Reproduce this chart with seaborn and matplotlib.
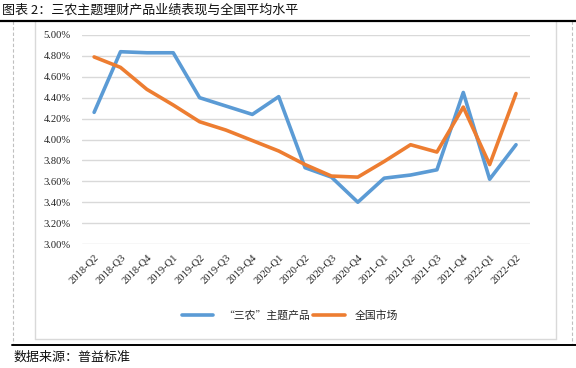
import matplotlib
matplotlib.use("Agg")
import matplotlib.pyplot as plt
import seaborn as sns
import pandas as pd
from matplotlib.lines import Line2D
from matplotlib.ticker import FuncFormatter

quarters = ["2018-Q2", "2018-Q3", "2018-Q4", "2019-Q1", "2019-Q2", "2019-Q3",
            "2019-Q4", "2020-Q1", "2020-Q2", "2020-Q3", "2020-Q4", "2021-Q1",
            "2021-Q2", "2021-Q3", "2021-Q4", "2022-Q1", "2022-Q2"]
sannong = [4.26, 4.84, 4.83, 4.83, 4.40, 4.32, 4.24, 4.41, 3.73, 3.64, 3.40,
           3.63, 3.66, 3.71, 4.45, 3.62, 3.95]
national = [4.79, 4.69, 4.48, 4.33, 4.17, 4.09, 3.99, 3.89, 3.76, 3.65, 3.64,
            3.79, 3.95, 3.88, 4.31, 3.76, 4.44]
series_names = ["“三农”主题产品", "全国市场"]
colors = ["#5B9BD5", "#ED7D31"]
yticks = [3.0, 3.2, 3.4, 3.6, 3.8, 4.0, 4.2, 4.4, 4.6, 4.8, 5.0]

sns.set_theme(style="white")
plt.rcParams['font.family'] = ['Noto Sans CJK SC', 'DejaVu Sans']

df = pd.DataFrame({
    "x": list(range(len(quarters))) * 2,
    "v": sannong + national,
    "s": [series_names[0]] * len(quarters) + [series_names[1]] * len(quarters),
})

W, H = 576, 368
fig = plt.figure(figsize=(W / 100, H / 100), dpi=100)
fig.patch.set_facecolor("white")
ax = fig.add_axes([82 / W, 1 - 244 / H, (530 - 82) / W, (244 - 35) / H])

sns.lineplot(data=df, x="x", y="v", hue="s", palette=colors, ax=ax,
             linewidth=2.6, legend=False, sort=False)

ax.set_ylim(3.0, 5.0)
ax.set_xlim(-0.46, 16.53)
ax.set_yticks(yticks)
ax.yaxis.set_major_formatter(FuncFormatter(lambda v, p: f"{v:.2f}%"))
ax.set_xticks(range(len(quarters)))
ax.set_xticklabels(quarters, rotation=45, ha="right", va="top",
                   rotation_mode="anchor")
for lab in ax.get_xticklabels() + ax.get_yticklabels():
    lab.set_fontfamily(["Liberation Serif"])
    lab.set_fontsize(7.6)
    lab.set_color("#222222")
ax.tick_params(axis="y", length=0, pad=8)
ax.tick_params(axis="x", length=0, pad=6)
ax.grid(axis="y", color="#D9D9D9", linewidth=1.0)
ax.set_axisbelow(True)
for sp in ax.spines.values():
    sp.set_visible(False)
ax.set_xlabel("")
ax.set_ylabel("")

# legend
handles = [Line2D([0], [0], color=c, linewidth=2.6) for c in colors]
fig.legend(handles, series_names, loc="center", bbox_to_anchor=(290 / W, 1 - 316 / H),
           ncol=2, frameon=False, fontsize=7.8, handlelength=2.9, columnspacing=0.3,
           handletextpad=0.9)

# frames
def hline(y, x0, x1, **kw):
    fig.add_artist(Line2D([x0 / W, x1 / W], [1 - y / H, 1 - y / H], transform=fig.transFigure, **kw))

def vline(x, y0, y1, **kw):
    fig.add_artist(Line2D([x / W, x / W], [1 - y0 / H, 1 - y1 / H], transform=fig.transFigure, **kw))

vline(13, 21, 345, color="#BFBFBF", linewidth=0.8, linestyle=(0, (3, 2)))
vline(572, 21, 345, color="#BFBFBF", linewidth=0.8, linestyle=(0, (3, 2)))
vline(35, 21, 339, color="#D9D9D9", linewidth=1.0)
vline(556, 21, 339, color="#D9D9D9", linewidth=1.0)
hline(339, 35, 556, color="#D9D9D9", linewidth=1.0)
hline(21, 0, 576, color="black", linewidth=1.6)
hline(345, 12, 576, color="black", linewidth=1.4)

fig.text(2 / W, 1 - 10 / H, "图表 2：三农主题理财产品业绩表现与全国平均水平",
         fontsize=9.4, va="center", ha="left", color="#111111")
fig.text(14 / W, 1 - 357 / H, "数据来源：普益标准",
         fontsize=9.4, va="center", ha="left", color="#111111")

fig.savefig("out.png", dpi=100)
